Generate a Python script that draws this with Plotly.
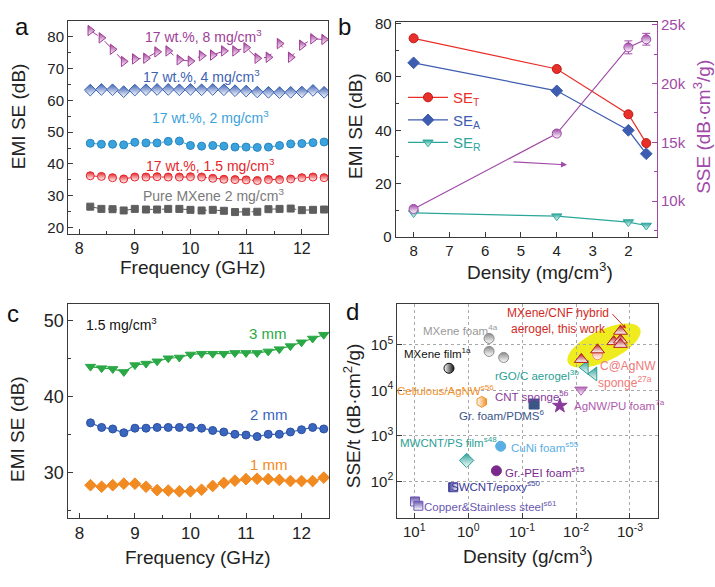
import numpy as np
import plotly.graph_objects as go

W, H = 715, 587
FONT = "Liberation Sans, Arial, sans-serif"

# ---------------- data ----------------
# Panel a: EMI SE vs frequency
freq_a = [8.2, 8.4, 8.6, 8.8, 9.0, 9.2, 9.4, 9.6, 9.8, 10.0, 10.2, 10.4, 10.6, 10.8,
          11.0, 11.2, 11.4, 11.6, 11.8, 12.0, 12.2, 12.4]
se_8mg = [81.9, 79.6, 76.0, 72.2, 73.0, 73.2, 75.2, 75.5, 72.7, 72.3, 74.0, 74.2, 75.5, 75.5,
          76.5, 73.2, 73.5, 77.8, 73.5, 77.3, 79.3, 79.1]
se_4mg = [63.2, 63.4, 63.3, 62.7, 63.2, 63.3, 63.4, 63.4, 63.3, 63.4, 63.3, 63.4, 63.3, 63.0,
          62.9, 62.6, 62.5, 62.4, 62.5, 62.6, 63.1, 62.5]
se_2mg = [46.5, 46.2, 46.2, 46.0, 46.8, 46.6, 46.6, 47.1, 47.2, 45.8, 45.6, 45.8, 45.6, 45.3,
          45.3, 45.2, 45.3, 45.8, 46.3, 46.4, 46.7, 46.9]
se_15mg = [36.3, 36.1, 35.7, 35.3, 35.9, 35.9, 36.0, 35.9, 35.9, 36.0, 35.9, 35.5, 35.2, 35.1,
           35.0, 34.8, 35.1, 35.1, 35.3, 35.7, 35.9, 35.7]
se_pure = [26.6, 25.9, 25.8, 25.4, 25.9, 25.7, 25.7, 25.9, 25.9, 25.6, 25.4, 25.6, 25.3, 24.9,
           25.0, 25.0, 25.8, 25.9, 26.0, 25.5, 25.6, 25.7]
labels_a = ["17 wt.%, 8 mg/cm<sup>3</sup>", "17 wt.%, 4 mg/cm<sup>3</sup>",
            "17 wt.%, 2 mg/cm<sup>3</sup>", "17 wt.%, 1.5 mg/cm<sup>3</sup>",
            "Pure MXene 2 mg/cm<sup>3</sup>"]

# Panel b: SE vs density
density_b = [8, 4, 2, 1.5]
se_t = [74.5, 63.0, 46.0, 35.2]
se_a = [65.3, 54.8, 40.0, 31.2]
se_r = [9.0, 7.8, 5.6, 4.3]
sse = [9340, 15750, 23070, 23760]
sse_err = [150, 200, 550, 500]
sse_tickvals = [10000, 15000, 20000, 25000]
sse_ticktext = ["10k", "15k", "20k", "25k"]

# Panel c: EMI SE vs frequency at 1.5 mg/cm3
freq_c = [8.2, 8.4, 8.6, 8.8, 9.0, 9.2, 9.4, 9.6, 9.8, 10.0, 10.2, 10.4, 10.6, 10.8,
          11.0, 11.2, 11.4, 11.6, 11.8, 12.0, 12.2, 12.4]
se_3mm = [43.9, 43.7, 43.6, 43.2, 44.1, 44.3, 44.6, 45.0, 45.1, 45.5, 45.6, 45.6, 45.6, 45.7,
          45.7, 45.7, 45.9, 46.2, 46.6, 47.1, 47.6, 48.1]
se_2mm = [36.5, 35.9, 35.7, 35.2, 35.8, 35.8, 35.9, 35.9, 35.9, 35.9, 35.8, 35.5, 35.3, 35.0,
          34.9, 34.7, 35.0, 35.0, 35.3, 35.6, 35.9, 35.7]
se_1mm = [28.3, 28.1, 28.3, 28.5, 28.5, 28.1, 27.65, 27.6, 27.5, 27.5, 27.7, 28.2, 28.6, 28.9,
          29.1, 29.15, 29.1, 29.0, 28.85, 28.85, 28.85, 29.3]

# Panel d: SSE/t vs density comparison
this_work_rho = [0.008, 0.004, 0.002, 0.0015, 0.0015, 0.0015]
this_work_sset = [48000, 78000, 118000, 128000, 103000, 200000]
cagnw_rho = [0.004]
cagnw_sset = [61000]
rgo_rho = [0.0068, 0.0047]
rgo_sset = [32000, 23000]
cnt_rho = [0.0081]
cnt_sset = [10300]
agnwpu_rho = [0.02]
agnwpu_sset = [4600]
grpdms_rho = [0.06]
grpdms_sset = [5000]
cell_rho = [0.56]
cell_sset = [5600]
mxfilm_rho = [2.27]
mxfilm_sset = [30600]
mxfoam_rho = [0.41, 0.41, 0.22]
mxfoam_sset = [139000, 72000, 53000]
mwcnt_rho = [1.07]
mwcnt_sset = [288]
cuni_rho = [0.25]
cuni_sset = [590]
grpei_rho = [0.30]
grpei_sset = [170]
swcnt_rho = [1.9]
swcnt_sset = [74]
copper_rho = [9.7, 8.4]
copper_sset = [36, 29]
d_tickvals_x = [10, 1, 0.1, 0.01, 0.001]
d_ticktext_x = ["10<sup>1</sup>", "10<sup>0</sup>", "10<sup>-1</sup>", "10<sup>-2</sup>", "10<sup>-3</sup>"]
d_tickvals_y = [100, 1000, 10000, 100000]
d_ticktext_y = ["10<sup>2</sup>", "10<sup>3</sup>", "10<sup>4</sup>", "10<sup>5</sup>"]

# ---------------- layout helpers ----------------
def dom_x(l, r):
    return [l / W, r / W]

def dom_y(t, b):
    return [1 - b / H, 1 - t / H]

def P(x, y):
    return x / W, 1 - y / H

annotations = []

def ann(text, x, y, size=14, color="#222", angle=0, xanchor="center", yanchor="middle"):
    px_, py_ = P(x, y)
    annotations.append(dict(text=text, x=px_, y=py_, xref="paper", yref="paper",
                            showarrow=False, textangle=angle, xanchor=xanchor, yanchor=yanchor,
                            font=dict(family=FONT, size=size, color=color)))

def arrow(x0, y0, x1, y1, color, size=1.0, width=1.2):
    hx, hy = P(x1, y1)
    annotations.append(dict(x=hx, y=hy, ax=x0 - x1, ay=y0 - y1, xref="paper", yref="paper",
                            axref="pixel", ayref="pixel", showarrow=True, arrowhead=2,
                            arrowsize=size, arrowwidth=width, arrowcolor=color, text=""))

AX = dict(showline=True, linecolor="#3a3a3a", linewidth=1, mirror=True, ticks="inside",
          ticklen=5, tickwidth=1, tickcolor="#3a3a3a", showgrid=False, zeroline=False,
          tickfont=dict(family=FONT, size=15, color="#222"))

def half(color, size, symbol, line_color=None, kind="vertical", swap=False):
    # vertical: top = colour, bottom = white ; horizontal: left = colour, right = white
    c1, c2 = (color, "white") if not swap else ("white", color)
    return dict(symbol=symbol, size=size, color=c1,
                gradient=dict(type=kind, color=c2),
                line=dict(color=line_color or color, width=1))

def full(color, size, symbol, line_color=None):
    return dict(symbol=symbol, size=size, color=color,
                line=dict(color=line_color or color, width=1))

fig = go.Figure()

# ---------------- panel a ----------------
PURPLE = "#a03c98"
BLUE = "#3c62b4"
LBLUE = "#3aa2dc"
RED = "#e4262b"
GRAY = "#5e5e5e"
series_a = [
    (se_8mg, PURPLE, half(PURPLE, 9, "triangle-right")),
    (se_4mg, BLUE, half(BLUE, 9, "diamond")),
    (se_2mg, LBLUE, full(LBLUE, 8, "circle", "#2a86c0")),
    (se_15mg, RED, half(RED, 8, "circle")),
    (se_pure, GRAY, full(GRAY, 7, "square")),
]
for ys, col, mk in series_a:
    fig.add_trace(go.Scatter(x=freq_a, y=ys, mode="lines+markers",
                             line=dict(color=col, width=1, dash="dash"), marker=mk,
                             xaxis="x", yaxis="y", showlegend=False))

# ---------------- panel b ----------------
B_RED = "#e8302a"
B_BLUE = "#3e5db0"
B_TEAL = "#2ba69a"
B_PURP = "#a049a8"
fig.add_trace(go.Scatter(x=density_b, y=se_t, mode="lines+markers",
                         name=f"<span style='color:{B_RED}'>SE<sub>T</sub></span>",
                         line=dict(color=B_RED, width=1.2), marker=full(B_RED, 9, "circle", "#c01818"),
                         xaxis="x2", yaxis="y2"))
fig.add_trace(go.Scatter(x=density_b, y=se_a, mode="lines+markers",
                         name=f"<span style='color:{B_BLUE}'>SE<sub>A</sub></span>",
                         line=dict(color=B_BLUE, width=1.2), marker=full(B_BLUE, 9, "diamond"),
                         xaxis="x2", yaxis="y2"))
fig.add_trace(go.Scatter(x=density_b, y=se_r, mode="lines+markers",
                         name=f"<span style='color:{B_TEAL}'>SE<sub>R</sub></span>",
                         line=dict(color=B_TEAL, width=1.2), marker=half(B_TEAL, 9, "triangle-down"),
                         xaxis="x2", yaxis="y2"))
fig.add_trace(go.Scatter(x=density_b, y=sse, mode="lines+markers", showlegend=False,
                         line=dict(color=B_PURP, width=1.2), marker=half(B_PURP, 9, "circle"),
                         error_y=dict(type="data", array=sse_err, color=B_PURP, thickness=1, width=4),
                         xaxis="x2", yaxis="y5"))

# ---------------- panel c ----------------
C_GREEN = "#2aa845"
C_BLUE = "#3a66bf"
C_ORANGE = "#f28a22"
for ys, col, mk in [
    (se_3mm, C_GREEN, full(C_GREEN, 9, "triangle-down")),
    (se_2mm, C_BLUE, full(C_BLUE, 8, "circle", "#2a4fa0")),
    (se_1mm, C_ORANGE, full(C_ORANGE, 9, "diamond")),
]:
    fig.add_trace(go.Scatter(x=freq_c, y=ys, mode="lines+markers",
                             line=dict(color=col, width=1.2), marker=mk,
                             xaxis="x3", yaxis="y3", showlegend=False))

# ---------------- panel d ----------------
d_series = [
    (mxfoam_rho, mxfoam_sset, half("#8a8a8a", 10, "circle")),
    (mxfilm_rho, mxfilm_sset, half("#111111", 10, "circle", kind="horizontal", swap=True)),
    (cell_rho, cell_sset, half("#f0902a", 11, "hexagon", kind="horizontal", swap=True)),
    (grpdms_rho, grpdms_sset, full("#3b5587", 10, "square")),
    (agnwpu_rho, agnwpu_sset, full("#8a3a9c", 11, "star")),
    (cnt_rho, cnt_sset, half("#b062b4", 11, "triangle-down")),
    (rgo_rho, rgo_sset, half("#2a9f96", 12, "triangle-left")),
    (cagnw_rho, cagnw_sset, half("#f0906a", 10, "circle")),
    (this_work_rho, this_work_sset, half("#b5191c", 12, "triangle-up")),
    (mwcnt_rho, mwcnt_sset, half("#2aa096", 11, "diamond")),
    (cuni_rho, cuni_sset, full("#5aaee2", 10, "circle")),
    (grpei_rho, grpei_sset, full("#7a2a8c", 10, "circle")),
    (swcnt_rho, swcnt_sset, half("#3a3a9a", 9, "square", kind="horizontal")),
    (copper_rho, copper_sset, half("#6a58b0", 9, "square")),
]
for xs, ys, mk in d_series:
    fig.add_trace(go.Scatter(x=xs, y=ys, mode="markers", marker=mk,
                             xaxis="x4", yaxis="y4", showlegend=False))

# yellow ellipse highlighting this work (pixel geometry -> axis domain)
dl, dr, dt, db = 397.3, 658.3, 304.3, 524.3
cx, cy, ea, eb, th = 604.0, 347.5, 40.0, 16.0, np.deg2rad(26)
tt = np.linspace(0, 2 * np.pi, 60)
ex = cx + ea * np.cos(tt) * np.cos(th) + eb * np.sin(tt) * np.sin(th)
ey = cy - ea * np.cos(tt) * np.sin(th) + eb * np.sin(tt) * np.cos(th)
fx = (ex - dl) / (dr - dl)
fy = (db - ey) / (db - dt)
path = "M " + " L ".join(f"{a:.4f},{b:.4f}" for a, b in zip(fx, fy)) + " Z"
shapes = [dict(type="path", path=path, xref="x4 domain", yref="y4 domain",
               fillcolor="#eeec1e", line=dict(width=0), layer="below")]

# ---------------- axes ----------------
layout = dict(
    width=W, height=H, margin=dict(l=0, r=0, t=0, b=0),
    paper_bgcolor="white", plot_bgcolor="white",
    font=dict(family=FONT, color="#222"),
    xaxis=dict(AX, domain=dom_x(68, 328), anchor="y", range=[7.8, 12.47],
               tickvals=[8, 9, 10, 11, 12], tickfont=dict(family=FONT, size=16, color="#222"),
               minor=dict(ticks="inside", ticklen=3, dtick=0.5, tickcolor="#3a3a3a")),
    yaxis=dict(AX, domain=dom_y(14, 233), anchor="x", range=[18, 85],
               tickvals=[20, 30, 40, 50, 60, 70, 80], minor=dict(ticks="inside", ticklen=3, dtick=5, tickcolor="#3a3a3a")),
    xaxis2=dict(AX, domain=dom_x(395.7, 657), anchor="y2", range=[8.5, 1.2],
                tickvals=[8, 7, 6, 5, 4, 3, 2]),
    yaxis2=dict(AX, domain=dom_y(15.7, 236), anchor="x2", range=[0, 80.5], mirror=False,
                tickvals=[0, 20, 40, 60, 80], minor=dict(ticks="inside", ticklen=3, dtick=10, tickcolor="#3a3a3a")),
    yaxis5=dict(AX, overlaying="y2", anchor="x2", side="right", range=[6960, 25200], mirror=False,
                linecolor=B_PURP, tickcolor=B_PURP, tickvals=sse_tickvals, ticktext=sse_ticktext,
                tickfont=dict(family=FONT, size=15, color=B_PURP),
                minor=dict(ticks="inside", ticklen=3, dtick=2500, tickcolor=B_PURP)),
    xaxis3=dict(AX, domain=dom_x(68.3, 329.3), anchor="y3", range=[7.8, 12.5],
                tickvals=[8, 9, 10, 11, 12], tickfont=dict(family=FONT, size=17, color="#222"),
                minor=dict(ticks="inside", ticklen=3, dtick=0.5, tickcolor="#3a3a3a")),
    yaxis3=dict(AX, domain=dom_y(304.3, 524.3), anchor="x3", range=[24, 52.2],
                tickvals=[30, 40, 50], tickfont=dict(family=FONT, size=18, color="#222"),
                minor=dict(ticks="inside", ticklen=3, dtick=5, tickcolor="#3a3a3a")),
    xaxis4=dict(AX, domain=dom_x(397.3, 658.3), anchor="y4", type="log", range=[1.315, -3.525],
                tickvals=d_tickvals_x, ticktext=d_ticktext_x, showgrid=True, gridcolor="#a8a8a8",
                griddash="dot", gridwidth=1),
    yaxis4=dict(AX, domain=dom_y(304.3, 524.3), anchor="x4", type="log", range=[1.195, 5.91],
                tickvals=d_tickvals_y, ticktext=d_ticktext_y, showgrid=True, gridcolor="#a8a8a8",
                griddash="dot", gridwidth=1),
    legend=dict(x=403 / W, y=1 - 76 / H, xanchor="left", yanchor="top", bgcolor="rgba(0,0,0,0)",
                font=dict(family=FONT, size=15), itemwidth=40, tracegroupgap=0),
    shapes=shapes,
)

# ---------------- text ----------------
ann("a", 22, 20, size=24, color="#111")
ann("b", 344, 20, size=24, color="#111")
ann("c", 13, 315, size=24, color="#111")
ann("d", 352, 312, size=24, color="#111")

ann("EMI SE (dB)", 18, 112, size=19, angle=-90)
ann("Frequency (GHz)", 193, 267, size=19)
ann("EMI SE (dB)", 356, 122, size=19, angle=-90)
ann("Density (mg/cm<sup>3</sup>)", 540, 271, size=19)
ann("SSE (dB·cm<sup>3</sup>/g)", 702, 123, size=19, angle=-90, color=B_PURP)
ann("EMI SE (dB)", 18, 433, size=19, angle=-90)
ann("Frequency (GHz)", 198, 565, size=19)
ann("SSE/t (dB·cm<sup>2</sup>/g)", 352, 420, size=19, angle=-90)
ann("Density (g/cm<sup>3</sup>)", 528, 562, size=19)

for lab, col, (x, y) in zip(labels_a, [PURPLE, BLUE, LBLUE, RED, "#7a7a7a"],
                            [(203, 30), (201, 71), (210, 113), (210, 162), (213, 193)]):
    ann(lab, x, y, size=14, color=col)

ann("1.5 mg/cm<sup>3</sup>", 84, 325, size=14, color="#111", xanchor="left")
ann("3 mm", 268, 335, size=15, color=C_GREEN)
ann("2 mm", 269, 418, size=15, color=C_BLUE)
ann("1 mm", 269, 470, size=15, color=C_ORANGE)

DS = 11.5
ann("MXene/CNF hybrid<br>aerogel, this work", 558, 322, size=12, color="#d02a26")
ann("MXene foam<sup>4a</sup>", 460, 331, size=DS, color="#9a9a9a")
ann("MXene film<sup>1a</sup>", 437, 355, size=DS, color="#111")
ann("rGO/C aerogel<sup>3b</sup>", 537, 378, size=DS, color="#2a9f96")
ann("C@AgNW", 628, 368, size=DS + 0.5, color="#f07a7a")
ann("sponge<sup>27a</sup>", 625, 385, size=DS + 0.5, color="#f07a7a")
ann("Cellulous/AgNW<sup>s56</sup>", 445, 393, size=DS, color="#f0902a")
ann("CNT sponge<sup>5b</sup>", 532, 399, size=DS, color="#8a3a9c")
ann("AgNW/PU foam<sup>7a</sup>", 619, 408, size=DS, color="#b05ab0")
ann("Gr. foam/PDMS<sup>6</sup>", 502, 419, size=DS, color="#3b5587")
ann("MWCNT/PS film<sup>s48</sup>", 448, 446, size=DS, color="#2aa096")
ann("CuNi foam<sup>s55</sup>", 545, 452, size=DS, color="#5aaee2")
ann("Gr.-PEI foam<sup>s15</sup>", 545, 477, size=DS, color="#7a2a8c")
ann("SWCNT/epoxy<sup>s50</sup>", 496, 492, size=DS, color="#3a3a9a")
ann("Copper&Stainless steel<sup>s61</sup>", 490, 512, size=DS, color="#6a58b0")

arrow(512, 159, 567, 162, B_PURP, size=1.0, width=1.2)
arrow(611, 314, 626, 330, "#d02a26", size=0.8, width=1.0)

layout["annotations"] = annotations
fig.update_layout(**layout)

# pin the plot to the page's top-left corner (no default body margin)
post = ("var gd=document.getElementById('{plot_id}');"
        "document.body.style.margin='0';"
        "gd.style.position='absolute';gd.style.left='0px';gd.style.top='0px';")
fig.write_html("out.html", post_script=post, config={"displayModeBar": False})
